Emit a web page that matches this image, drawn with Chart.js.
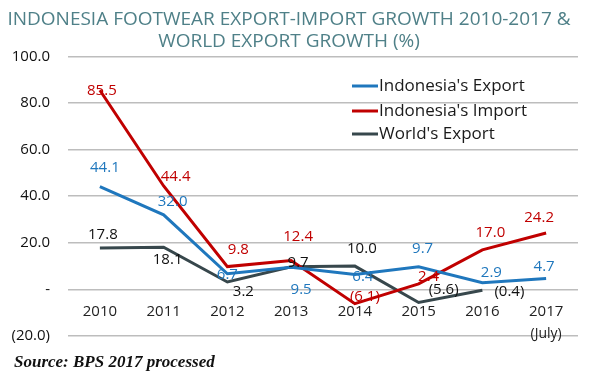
<!DOCTYPE html>
<html>
<head>
<meta charset="utf-8">
<script src="https://cdn.jsdelivr.net/npm/chart.js@4.4.1/dist/chart.umd.min.js"></script>
<style>
  html, body { margin: 0; padding: 0; background: #fff; }
  #wrap { width: 600px; height: 378px; position: relative; }
</style>
</head>
<body>
<div id="wrap"><canvas id="chart"></canvas></div>
<script>
// Chart data
const years = ['2010', '2011', '2012', '2013', '2014', '2015', '2016', ['2017', '(July)']];
const indoExport = [44.1, 32.0, 6.7, 9.5, 6.4, 9.7, 2.9, 4.7];
const indoImport = [85.5, 44.4, 9.8, 12.4, -6.1, 2.4, 17.0, 24.2];
const worldExport = [17.8, 18.1, 3.2, 9.7, 10.0, -5.6, -0.4, null];
const yTicks = [-20, 0, 20, 40, 60, 80, 100];

// Colours
const blue = '#1f77bd';
const red = '#c00000';
const slate = '#37474c';

// Label nudges (px) relative to each point, per series
const exportNudge = [[5, -19], [9, -13], [0, 1], [10, 22], [8, 2], [4, -18], [9, -10], [-2, -12]];
const importNudge = [[2, 0], [12, -9], [11, -17], [7, -24], [10, -7], [10, -7], [8, -17], [-7, -15]];
const worldNudge = [[3, -13], [4, 12], [16, 10], [7, -4], [7, -17], [25, -13], [27, 1], [0, 0]];

// Format numbers the accounting way: (x.x) for negatives, '-' for zero
function fmt(v) {
  if (v === 0) return '-';
  if (v < 0) return '(' + Math.abs(v).toFixed(1) + ')';
  return v.toFixed(1);
}

// Plugin: value labels, in-plot x labels, legend box and source line
const overlayPlugin = {
  id: 'overlay',
  afterDatasetsDraw(chart) {
    const ctx = chart.ctx;
    const xs = chart.scales.x;
    const ys = chart.scales.y;
    const nudges = [exportNudge, importNudge, worldNudge];
    const labelColors = [blue, red, '#111'];

    ctx.save();
    ctx.textAlign = 'center';
    ctx.textBaseline = 'middle';
    ctx.font = '15px "Open Sans"';

    // value labels
    chart.data.datasets.forEach((ds, di) => {
      const meta = chart.getDatasetMeta(di);
      ctx.fillStyle = labelColors[di];
      ds.data.forEach((v, i) => {
        if (v === null) return;
        const pt = meta.data[i];
        ctx.fillText(fmt(v), pt.x + nudges[di][i][0], pt.y + nudges[di][i][1]);
      });
    });

    // category labels, drawn inside the plot between 0 and -20
    ctx.fillStyle = '#222';
    years.forEach((lab, i) => {
      const x = xs.getPixelForValue(i);
      const y = ys.getPixelForValue(-9.5);
      if (Array.isArray(lab)) {
        ctx.font = '15px "Open Sans"';
        ctx.fillText(lab[0], x, y);
        ctx.font = '14px "Open Sans"';
        ctx.fillText(lab[1], x, y + 22);
      } else {
        ctx.font = '15px "Open Sans"';
        ctx.fillText(lab, x, y);
      }
    });

    // legend
    ctx.textAlign = 'left';
    ctx.font = '17px "Open Sans"';
    const legendRows = [86, 111, 134];
    chart.data.datasets.forEach((ds, di) => {
      const y = legendRows[di];
      ctx.strokeStyle = ds.borderColor;
      ctx.lineWidth = 3;
      ctx.beginPath();
      ctx.moveTo(352, y);
      ctx.lineTo(378, y);
      ctx.stroke();
      ctx.fillStyle = '#1a1a1a';
      ctx.fillText(ds.label, 379, y);
    });

    // source note
    ctx.font = 'italic bold 17px "Liberation Serif"';
    ctx.fillStyle = '#111';
    ctx.fillText('Source: BPS 2017 processed', 14, 363);
    ctx.restore();
  }
};

const ctx = document.getElementById('chart').getContext('2d');
const chart = new Chart(ctx, {
  type: 'line',
  data: {
    labels: years,
    datasets: [
      { label: "Indonesia's Export", data: indoExport, borderColor: blue },
      { label: "Indonesia's Import", data: indoImport, borderColor: red },
      { label: "World's Export", data: worldExport, borderColor: slate }
    ]
  },
  options: {
    responsive: true,
    maintainAspectRatio: false,
    animation: false,
    layout: { padding: { left: 0, right: 22, top: 0, bottom: 42 } },
    elements: {
      line: { borderWidth: 3, tension: 0, fill: false },
      point: { radius: 0 }
    },
    scales: {
      x: {
        display: false,
        offset: true
      },
      y: {
        min: -20,
        max: 100,
        afterFit(scale) { scale.width = 68; },
        afterBuildTicks(scale) { scale.ticks = yTicks.map(v => ({ value: v })); },
        border: { display: false },
        grid: { color: '#bdbdbd', lineWidth: 1.5, drawTicks: false },
        ticks: {
          padding: 18,
          color: '#111',
          font: { family: 'Open Sans', size: 15 },
          callback: v => fmt(v)
        }
      }
    },
    plugins: {
      legend: { display: false },
      tooltip: { enabled: false },
      title: {
        display: true,
        text: ['INDONESIA FOOTWEAR EXPORT-IMPORT GROWTH 2010-2017 &', 'WORLD EXPORT GROWTH (%)'],
        color: '#4f8088',
        font: { family: 'Open Sans', size: 19, weight: 'normal', lineHeight: 1.17 },
        padding: { top: 8, bottom: 4 }
      }
    }
  },
  plugins: [overlayPlugin]
});
</script>
</body>
</html>
